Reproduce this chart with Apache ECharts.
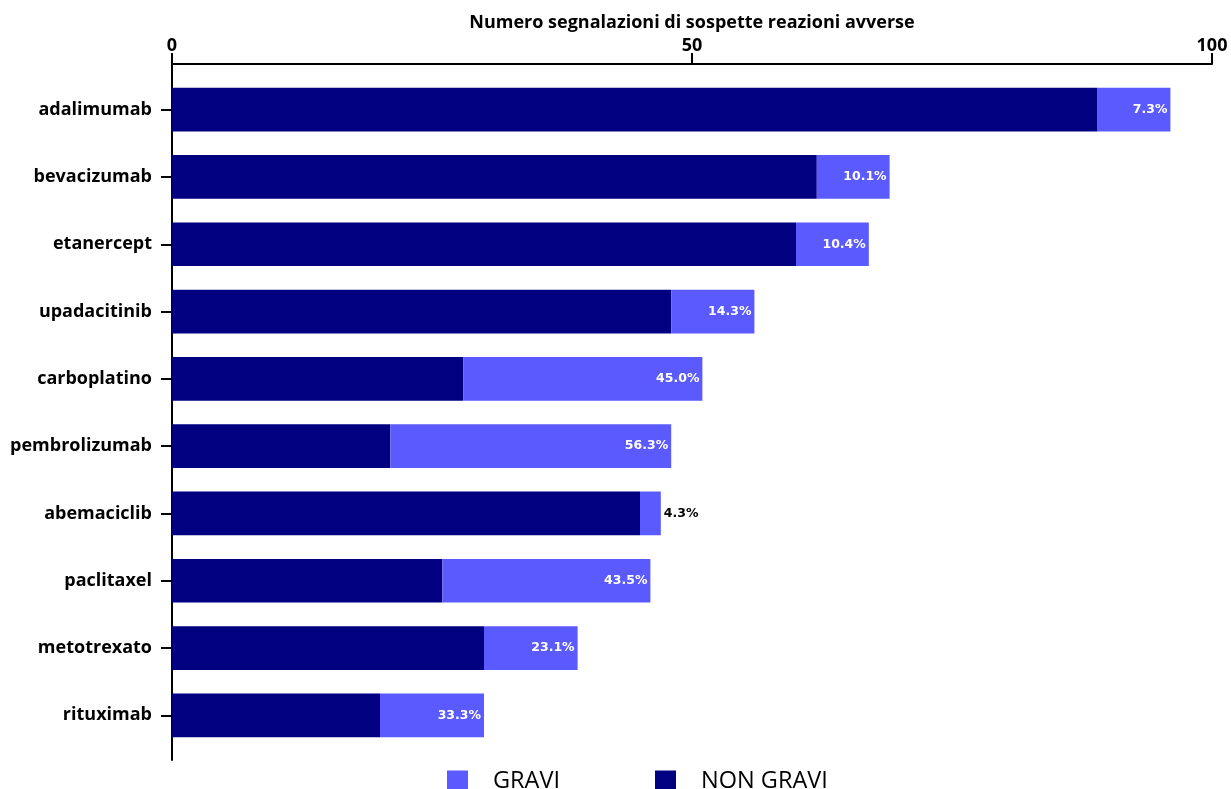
<!DOCTYPE html>
<html>
<head>
<meta charset="utf-8">
<script src="https://cdn.jsdelivr.net/npm/echarts@6/dist/echarts.min.js"></script>
<style>
  html, body { margin: 0; padding: 0; background: #fff; }
  #chart { width: 1231px; height: 789px; }
</style>
</head>
<body>
<div id="chart"></div>
<script>
// Farmaci, dall'alto verso il basso
const farmaci = ['adalimumab', 'bevacizumab', 'etanercept', 'upadacitinib', 'carboplatino',
  'pembrolizumab', 'abemaciclib', 'paclitaxel', 'metotrexato', 'rituximab'];
// Numero di segnalazioni per farmaco
const nonGravi = [89, 62, 60, 48, 28, 21, 45, 26, 30, 20];
const gravi = [7, 7, 7, 8, 23, 27, 2, 20, 9, 10];
// Quota di segnalazioni gravi sul totale
const percGravi = ['7.3%', '10.1%', '10.4%', '14.3%', '45.0%', '56.3%', '4.3%', '43.5%', '23.1%', '33.3%'];
const xTicks = [0, 50, 100];

const COL_NON_GRAVI = '#000080';
const COL_GRAVI = '#5a5aff';
const FONT = '"Open Sans", sans-serif';

// category axis runs top to bottom
const cats = farmaci.slice().reverse();
const nonGraviR = nonGravi.slice().reverse();
const graviR = gravi.slice().reverse();
const percR = percGravi.slice().reverse();

const graviData = graviR.map((v) => {
  const dentro = v >= 4; // label fits inside the segment
  return {
    value: v,
    label: dentro ? {} : { position: 'right', color: '#000', distance: 3 }
  };
});

const chart = echarts.init(document.getElementById('chart'));
chart.setOption({
  animation: false,
  backgroundColor: '#fff',
  grid: [
    { left: 172, right: 19, top: 76, bottom: 40 },
    // second grid only carries the longer vertical axis line
    { left: 172, width: 1, top: 64, bottom: 29 }
  ],
  legend: {
    bottom: -9,
    left: 442,
    itemWidth: 21,
    itemHeight: 21,
    itemGap: 95,
    icon: 'rect',
    data: ['GRAVI', 'NON GRAVI'],
    textStyle: { fontFamily: FONT, fontSize: 23.5, color: '#000', padding: [0, 0, 0, 20] }
  },
  xAxis: [
    {
      gridIndex: 0,
      type: 'value',
      position: 'top',
      min: xTicks[0],
      max: xTicks[xTicks.length - 1],
      interval: xTicks[1] - xTicks[0],
      offset: 12,
      name: 'Numero segnalazioni di sospette reazioni avverse',
      nameLocation: 'middle',
      nameGap: 28,
      nameTextStyle: { fontFamily: FONT, fontWeight: 'bold', fontSize: 18, color: '#000' },
      axisLine: { show: true, lineStyle: { color: '#000', width: 2 } },
      axisTick: { show: true, length: 11, lineStyle: { color: '#000', width: 2 } },
      axisLabel: { fontFamily: FONT, fontWeight: 'bold', fontSize: 18, color: '#000', margin: 9 },
      splitLine: { show: false }
    },
    { gridIndex: 1, type: 'value', show: false }
  ],
  yAxis: [
    {
      gridIndex: 0,
      type: 'category',
      data: cats,
      axisLine: { show: false },
      axisTick: { show: true, alignWithLabel: true, length: 11, lineStyle: { color: '#000', width: 2 } },
      axisLabel: { fontFamily: FONT, fontWeight: 'bold', fontSize: 18, color: '#000', margin: 20 }
    },
    {
      gridIndex: 1,
      type: 'category',
      data: [''],
      axisLine: { show: true, lineStyle: { color: '#000', width: 2 } },
      axisTick: { show: false },
      axisLabel: { show: false }
    }
  ],
  series: [
    {
      name: 'NON GRAVI',
      type: 'bar',
      stack: 'tot',
      barCategoryGap: '35%',
      itemStyle: { color: COL_NON_GRAVI },
      data: nonGraviR
    },
    {
      name: 'GRAVI',
      type: 'bar',
      stack: 'tot',
      barCategoryGap: '35%',
      itemStyle: { color: COL_GRAVI },
      label: {
        show: true,
        position: 'insideRight',
        distance: 3,
        color: '#fff',
        fontFamily: '"DejaVu Sans", sans-serif',
        fontWeight: 'bold',
        fontSize: 12.5,
        formatter: p => percR[p.dataIndex]
      },
      data: graviData
    }
  ]
});
</script>
</body>
</html>
